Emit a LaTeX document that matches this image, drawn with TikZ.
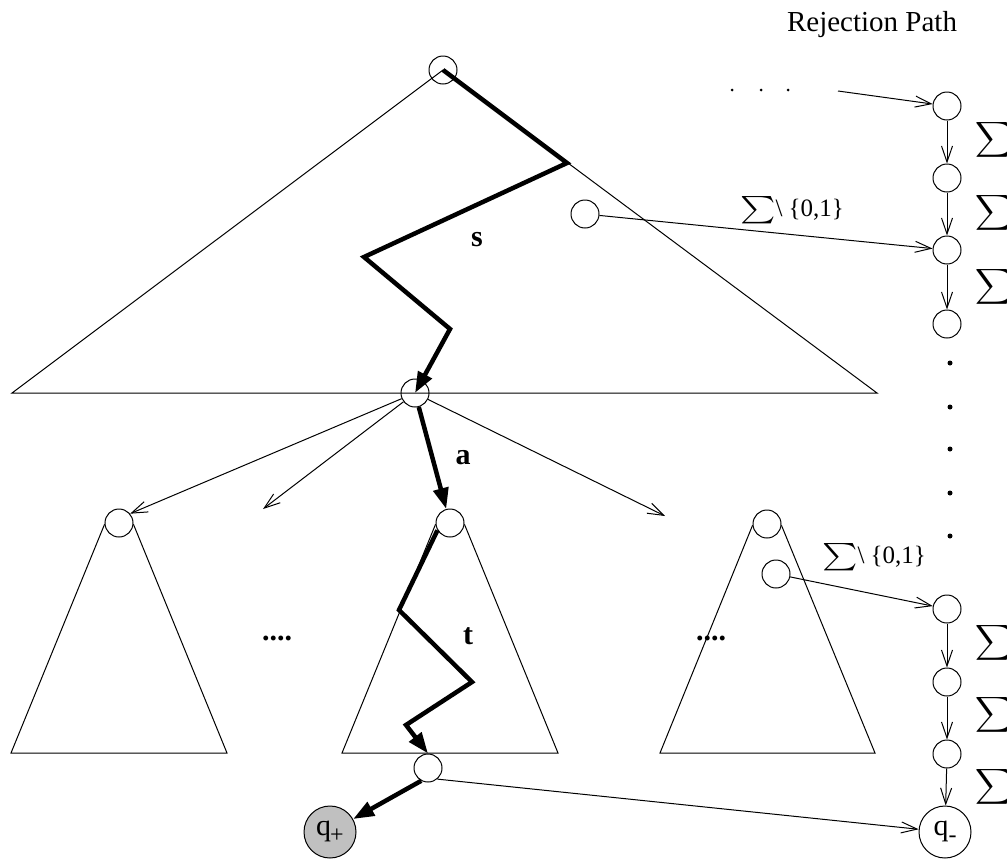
\documentclass[tikz,border=0pt]{standalone}
\usepackage{amsmath}
\usepackage{graphicx}
\usepackage{fontspec}
\setmainfont{Liberation Serif}
\usetikzlibrary{arrows.meta}
\tikzset{
  st/.style={circle,draw,line width=1pt,minimum size=28pt,inner sep=0pt},
  big/.style={circle,draw,line width=1pt,minimum size=52pt,inner sep=0pt,font=\fontsize{30}{32}\selectfont},
  tline/.style={line width=1pt},
  tarrow/.style={line width=1pt,-{Straight Barb[length=16pt,width=11pt]}},
  bpath/.style={line width=4.5pt,line join=miter,-{Triangle[length=21pt,width=15pt]}},
  lbl/.style={font=\fontsize{30}{36}\selectfont\bfseries,inner sep=0pt},
  sig/.style={anchor=west,inner sep=0pt,font=\fontsize{25}{30}\selectfont},
  sigl/.style={inner sep=0pt,font=\fontsize{25}{30}\selectfont},
  dot/.style={circle,fill,inner sep=0pt,minimum size=5pt},
}
\newcommand{\wsum}{\scalebox{1.35}[1.1]{$\sum$}}
\newcommand{\qsub}[1]{\raisebox{-7pt}{\fontsize{24}{24}\selectfont #1}}
\begin{document}
\begin{tikzpicture}[x=1pt,y=-1pt]
\useasboundingbox (0,0) rectangle (1007,865);
% nodes
\node[st] (r0) at (443,70) {};
\node[st] (sc) at (585,214) {};
\node[st] (m) at (415,393) {};
\node[st] (c1) at (119,523) {};
\node[st] (c2) at (450,523) {};
\node[st] (c3) at (767,524) {};
\node[st] (sc2) at (776,574) {};
\node[st] (b) at (428,768) {};
\node[big,fill={rgb,255:red,192;green,192;blue,192}] (qp) at (330,832) {q\kern-1pt\qsub{+}};
\node[big] (qm) at (945,832) {q\qsub{-}};
\node[st] (R1) at (947,106) {};
\node[st] (R2) at (947,178) {};
\node[st] (R3) at (947,250) {};
\node[st] (R4) at (947,324) {};
\node[st] (L1) at (947,609) {};
\node[st] (L2) at (947,682) {};
\node[st] (L3) at (947,754) {};
% triangles
\draw[tline] (12,393) -- (r0.center) -- (877,393) -- cycle;
\draw[tline] (c1.185) -- (11,753) -- (227,753) -- (c1.-5);
\draw[tline] (c2.185) -- (342,753) -- (558,753) -- (c2.-5);
\draw[tline] (c3.185) -- (660,753) -- (875,753) -- (c3.-5);
% thick paths
\draw[bpath] (r0.center) -- (567,163) -- (364,257) -- (450,329) -- (m.center);
\draw[bpath] (m) -- (c2);
\draw[bpath] (c2.-150) -- (399,610) -- (472,682) -- (406,725) -- (b.north);
\draw[bpath] (b.-118) -- (qp);
% thin arrows from m
\coordinate (e2) at (263,509);
\coordinate (e3) at (665,516);
\draw[tarrow] (m) -- (c1.40);
\draw[tarrow] (m) -- (e2);
\draw[tarrow] (m) -- (e3);
% rejection path
\coordinate (ds) at (838,91);
\draw[tarrow] (ds) -- (R1);
\draw[tarrow] (R1) -- (R2);
\draw[tarrow] (R2) -- (R3);
\draw[tarrow] (R3) -- (R4);
\draw[tarrow] (sc) -- (R3);
\draw[tarrow] (sc2) -- (L1);
\draw[tarrow] (L1) -- (L2);
\draw[tarrow] (L2) -- (L3);
\draw[tarrow] (L3) -- (qm);
\draw[tarrow] (b.-50) -- (qm);
% dots
\node[dot,minimum size=3pt] (d1) at (732,90) {};
\node[dot,minimum size=3pt] (d2) at (761,90) {};
\node[dot,minimum size=3pt] (d3) at (788,90) {};
\node[dot] (v1) at (950,363) {};
\node[dot] (v2) at (950,407) {};
\node[dot] (v3) at (950,449) {};
\node[dot] (v4) at (950,493) {};
\node[dot] (v5) at (950,536) {};
% labels
\node[inner sep=0pt,font=\fontsize{29}{33}\selectfont] (title) at (872,25) {Rejection Path};
\node[lbl] (ls) at (477,240) {s};
\node[lbl] (la) at (463,458) {a};
\node[lbl] (lt) at (468,636) {t};
\node[lbl] (dl) at (277,638) {....};
\node[lbl] (dr) at (711,638) {....};
\node[sigl] (s01a) at (792,210) {\wsum\textbackslash\ \{0,1\}};
\node[sigl] (s01b) at (874,557) {\wsum\textbackslash\ \{0,1\}};
\node[sig] (g1) at (975,140) {$\displaystyle\sum$};
\node[sig] (g2) at (975,213) {$\displaystyle\sum$};
\node[sig] (g3) at (975,287) {$\displaystyle\sum$};
\node[sig] (g4) at (975,643) {$\displaystyle\sum$};
\node[sig] (g5) at (975,715) {$\displaystyle\sum$};
\node[sig] (g6) at (975,787) {$\displaystyle\sum$};
\end{tikzpicture}
\end{document}
